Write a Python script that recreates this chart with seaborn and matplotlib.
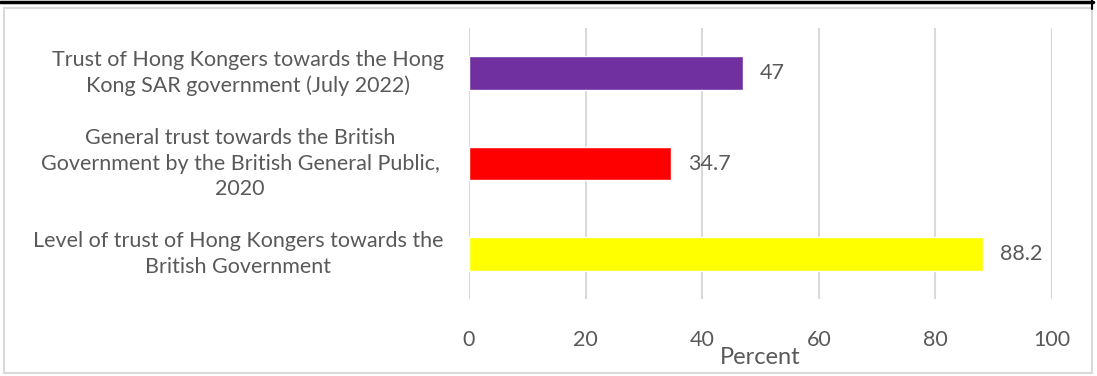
import matplotlib
matplotlib.use("Agg")
import matplotlib.pyplot as plt
import matplotlib.transforms as mtransforms
from matplotlib.patches import Rectangle
from matplotlib.lines import Line2D
import seaborn as sns
import pandas as pd

categories = [
    "Trust of Hong Kongers towards the Hong\nKong SAR government (July 2022)",
    "General trust towards the British\nGovernment by the British General Public,\n2020",
    "Level of trust of Hong Kongers towards the\nBritish Government",
]
values = [47, 34.7, 88.2]
value_labels = ["47", "34.7", "88.2"]
bar_colors = ["#7030A0", "#FF0000", "#FFFF00"]
x_ticks = [0, 20, 40, 60, 80, 100]

sns.set_theme(style="white")
plt.rcParams["font.family"] = ["Lato", "DejaVu Sans"]
text_color = "#595959"

df = pd.DataFrame({"category": categories, "value": values})

fig = plt.figure(figsize=(10.97, 3.76), dpi=100)
ax = fig.add_axes([469 / 1097, 1 - 299 / 376, (1052 - 469) / 1097, (299 - 28) / 376])

sns.barplot(data=df, x="value", y="category", hue="category", palette=bar_colors,
            order=categories, hue_order=categories, legend=False, width=0.37,
            saturation=1, ax=ax, zorder=3)

ax.set_xlim(0, 100)
ax.set_ylim(2.5, -0.5)
ax.set_xticks(x_ticks)
ax.set_xticklabels([str(t) for t in x_ticks], fontsize=15.5, color=text_color)
ax.tick_params(axis="x", length=0, pad=22)
ax.set_yticks([])
ax.set_ylabel("")
ax.set_xlabel("Percent", fontsize=17, color=text_color, labelpad=-2)
ax.grid(axis="x", color="#D9D9D9", linewidth=1.5, zorder=0)
for s in ax.spines.values():
    s.set_visible(False)

# value labels at bar ends
for i, (v, lab) in enumerate(zip(values, value_labels)):
    ax.annotate(lab, xy=(v, i), xytext=(12, 0), textcoords="offset points",
                ha="left", va="center", fontsize=15.5, color=text_color)

# category labels, centred line by line
label_x = [248 / 1097, 240 / 1097, 238 / 1097]
trans = mtransforms.blended_transform_factory(fig.transFigure, ax.transData)
for i, (cat, lx) in enumerate(zip(categories, label_x)):
    fig.text(lx, i, cat, transform=trans, ha="center", va="center",
             multialignment="center", fontsize=15.5, color=text_color,
             linespacing=1.36)

# chart frame
fig.patches.append(Rectangle((4 / 1097, 3 / 376), (1092 - 4) / 1097, (368 - 3) / 376,
                             transform=fig.transFigure, fill=False,
                             edgecolor="#D9D9D9", linewidth=1.5))
fig.lines.append(Line2D([0, 1093 / 1097], [1 - 1.5 / 376, 1 - 1.5 / 376],
                        transform=fig.transFigure, color="black", linewidth=2.5))
fig.lines.append(Line2D([1092 / 1097, 1092 / 1097], [1, 1 - 9 / 376],
                        transform=fig.transFigure, color="black", linewidth=1.5))

fig.savefig("out.png", dpi=100)
